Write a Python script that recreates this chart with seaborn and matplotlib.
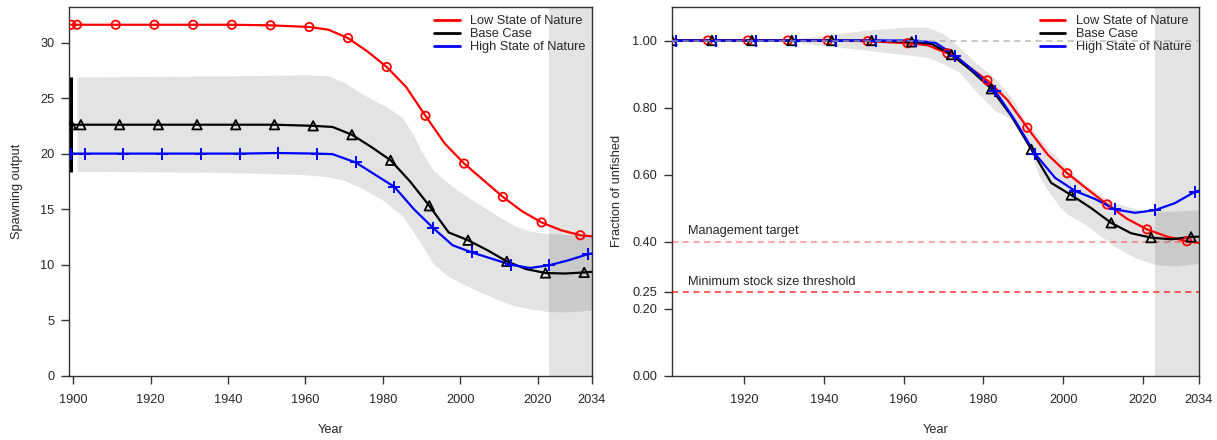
import seaborn as sns
import matplotlib.pyplot as plt
import pandas as pd
from matplotlib.lines import Line2D

# spawning output (left panel)
low_yr = [1899.5, 1901, 1911, 1921, 1931, 1941, 1951, 1961, 1966, 1971, 1976, 1981, 1986,
          1991, 1996, 2001, 2006, 2011, 2016, 2021, 2026, 2031, 2034]
low_sb = [31.6, 31.6, 31.6, 31.6, 31.6, 31.6, 31.55, 31.4, 31.15, 30.4, 29.2, 27.8, 26.0,
          23.4, 20.9, 19.1, 17.6, 16.1, 14.8, 13.8, 13.1, 12.65, 12.55]
base_yr = [1899.5, 1902, 1912, 1922, 1932, 1942, 1952, 1962, 1967, 1972, 1977, 1982, 1987,
           1992, 1997, 2002, 2007, 2012, 2017, 2022, 2027, 2032, 2034]
base_sb = [22.6, 22.6, 22.6, 22.6, 22.6, 22.6, 22.6, 22.5, 22.4, 21.7, 20.6, 19.4, 17.5,
           15.3, 12.9, 12.2, 11.3, 10.3, 9.6, 9.25, 9.2, 9.3, 9.35]
high_yr = [1899.5, 1903, 1913, 1923, 1933, 1943, 1953, 1963, 1967, 1973, 1978, 1983, 1988,
           1993, 1998, 2003, 2008, 2013, 2018, 2023, 2028, 2033, 2034]
high_sb = [20.0, 20.0, 20.0, 20.0, 20.0, 20.0, 20.05, 20.0, 19.95, 19.2, 18.1, 17.0, 15.0,
           13.3, 11.75, 11.1, 10.55, 10.0, 9.7, 9.95, 10.4, 10.95, 11.0]

# base case interval, spawning output
sb_band_yr = [1901, 1920, 1940, 1960, 1966, 1970, 1975, 1980, 1985, 1988, 1990, 1993, 1997,
              2001, 2006, 2010, 2014, 2018, 2023, 2028, 2034]
sb_band_hi = [26.9, 26.95, 27.0, 27.1, 27.0, 26.4, 25.3, 24.4, 23.3, 21.6, 20.2, 18.5, 17.3,
              16.3, 15.2, 14.3, 13.5, 13.0, 12.8, 12.7, 12.7]
sb_band_lo = [18.4, 18.35, 18.3, 18.1, 17.9, 17.6, 16.8, 15.8, 14.4, 12.9, 11.8, 10.1, 8.9,
              8.2, 7.4, 6.8, 6.3, 6.0, 5.77, 5.75, 5.9]
virgin_yr = 1899.4
virgin_ci = [18.3, 26.9]

# fraction of unfished (right panel)
low_fr_yr = [1901, 1911, 1921, 1931, 1941, 1951, 1961, 1966, 1971, 1976, 1981, 1986, 1991,
             1996, 2001, 2006, 2011, 2016, 2021, 2026, 2031, 2034]
low_fr = [1.0, 1.0, 1.0, 1.0, 1.0, 0.998, 0.992, 0.986, 0.962, 0.924, 0.881, 0.823, 0.740,
          0.661, 0.604, 0.557, 0.511, 0.468, 0.4365, 0.415, 0.401, 0.396]
base_fr_yr = [1902, 1912, 1922, 1932, 1942, 1952, 1962, 1967, 1972, 1977, 1982, 1987, 1992,
              1997, 2002, 2007, 2012, 2017, 2022, 2027, 2032, 2034]
base_fr = [1.0, 1.0, 1.0, 1.0, 1.0, 1.0, 0.996, 0.99, 0.958, 0.91, 0.856, 0.775, 0.675,
           0.575, 0.539, 0.50, 0.456, 0.425, 0.412, 0.407, 0.414, 0.415]
high_fr_yr = [1903, 1913, 1923, 1933, 1943, 1953, 1963, 1968, 1973, 1978, 1983, 1988, 1993,
              1998, 2003, 2008, 2013, 2018, 2023, 2028, 2033, 2034]
high_fr = [1.0, 1.0, 1.0, 1.0, 1.0, 1.0, 1.0, 0.993, 0.955, 0.905, 0.849, 0.76, 0.661,
           0.59, 0.551, 0.527, 0.496, 0.486, 0.494, 0.515, 0.549, 0.552]

fr_band_yr = [1902, 1930, 1940, 1950, 1960, 1966, 1970, 1974, 1978, 1983, 1987, 1991, 1994,
              1996, 1999, 2001, 2005, 2009, 2013, 2018, 2023, 2028, 2034]
fr_band_hi = [1.0, 1.002, 1.015, 1.03, 1.04, 1.04, 1.02, 0.98, 0.935, 0.886, 0.83, 0.75, 0.71,
              0.68, 0.645, 0.62, 0.574, 0.54, 0.515, 0.498, 0.49, 0.491, 0.495]
fr_band_lo = [1.0, 0.998, 0.985, 0.972, 0.958, 0.95, 0.93, 0.905, 0.85, 0.79, 0.765, 0.70, 0.594,
              0.555, 0.505, 0.482, 0.455, 0.42, 0.385, 0.352, 0.332, 0.327, 0.335]

labels = ['Low State of Nature', 'Base Case', 'High State of Nature']
colors = ['red', 'black', 'blue']
markers = ['o', '^', '+']
fcst_start = 2023
x_end = 2034
mgmt_target = 0.4
mss_threshold = 0.25

sns.set_style('ticks')
plt.rcParams['font.family'] = ['Liberation Sans', 'DejaVu Sans']
plt.rcParams['font.size'] = 9.2

fig = plt.figure(figsize=(12.17, 4.4), dpi=100)
ax1 = fig.add_axes([0.0569, 0.1461, 0.4295, 0.8380])
ax2 = fig.add_axes([0.5522, 0.1461, 0.4330, 0.8380])


def marker_years(yrs):
    # unfished point plus every tenth year from the first model year
    start = [y for y in yrs if y >= 1900][0]
    return [y for y in yrs if y < 1900] + list(range(int(start), x_end, 10))


def draw_series(ax, yrs, vals, color, marker):
    df = pd.DataFrame({'year': yrs, 'value': vals})
    sns.lineplot(data=df, x='year', y='value', color=color, lw=1.6, ax=ax, zorder=4)
    mk = df[df['year'].isin(marker_years(yrs))]
    if marker == '+':
        sns.scatterplot(data=mk, x='year', y='value', marker='+', color=color, s=70,
                        linewidth=1.4, ax=ax, zorder=5)
    else:
        sns.scatterplot(data=mk, x='year', y='value', marker=marker, facecolor='none',
                        edgecolor=color, s=36 if marker == 'o' else 46, linewidth=1.3,
                        ax=ax, zorder=5)


# left: spawning output
ax1.axvspan(fcst_start, x_end, color='k', alpha=0.11, lw=0, zorder=1)
ax1.fill_between(sb_band_yr, sb_band_lo, sb_band_hi, color='k', alpha=0.11, lw=0, zorder=2)
ax1.vlines(virgin_yr, virgin_ci[0], virgin_ci[1], color='black', lw=2.2, zorder=4)
for yrs, vals, c, m in zip([low_yr, base_yr, high_yr], [low_sb, base_sb, high_sb], colors, markers):
    draw_series(ax1, yrs, vals, c, m)
ax1.set_xlim(1899, x_end)
ax1.set_ylim(0, 33.2)
ax1.set_xticks([1900, 1920, 1940, 1960, 1980, 2000, 2020, 2034])
ax1.set_yticks([0, 5, 10, 15, 20, 25, 30])
ax1.set_ylabel('Spawning output')
ax1.yaxis.set_label_coords(-0.088, 0.5)

# right: fraction of unfished
ax2.axvspan(fcst_start, x_end, color='k', alpha=0.11, lw=0, zorder=1)
ax2.fill_between(fr_band_yr, fr_band_lo, fr_band_hi, color='k', alpha=0.11, lw=0, zorder=2)
for yrs, vals, c, m in zip([low_fr_yr, base_fr_yr, high_fr_yr], [low_fr, base_fr, high_fr], colors, markers):
    draw_series(ax2, yrs, vals, c, m)
ax2.axhline(1.0, color='#aaaaaa', lw=1.1, dashes=(4, 3), zorder=6, alpha=0.8)
ax2.axhline(mgmt_target, color='red', lw=1.1, dashes=(4, 3), alpha=0.45, zorder=3)
ax2.axhline(mss_threshold, color='red', lw=1.1, dashes=(4, 3), alpha=0.8, zorder=3)
ax2.text(1906, mgmt_target + 0.013, 'Management target', ha='left', va='bottom')
ax2.text(1906, mss_threshold + 0.013, 'Minimum stock size threshold', ha='left', va='bottom')
ax2.set_xlim(1902, x_end)
ax2.set_ylim(0, 1.1)
ax2.set_xticks([1920, 1940, 1960, 1980, 2000, 2020, 2034])
ax2.set_yticks([0, 0.2, 0.25, 0.4, 0.6, 0.8, 1.0])
ax2.set_yticklabels(['0.00', '0.20', '0.25', '0.40', '0.60', '0.80', '1.00'])
ax2.set_ylabel('Fraction of unfished')
ax2.yaxis.set_label_coords(-0.093, 0.5)

handles = [Line2D([], [], color=c, lw=2) for c in colors]
for ax in (ax1, ax2):
    ax.set_xlabel('Year')
    ax.xaxis.set_label_coords(0.5, -0.131)
    ax.tick_params(axis='both', length=5.8, width=1, color='#333333', labelsize=9.2)
    ax.tick_params(axis='x', pad=7.5)
    ax.tick_params(axis='y', pad=5)
    for sp in ax.spines.values():
        sp.set_visible(True)
        sp.set_color('#333333')
        sp.set_linewidth(1)
    ax.legend(handles, labels, loc='upper left', bbox_to_anchor=(0.698, 0.978),
              frameon=False, borderpad=0, borderaxespad=0, handlelength=2.0,
              handletextpad=0.8, labelspacing=0.08, fontsize=9.2)

fig.savefig('out.png', dpi=100)
